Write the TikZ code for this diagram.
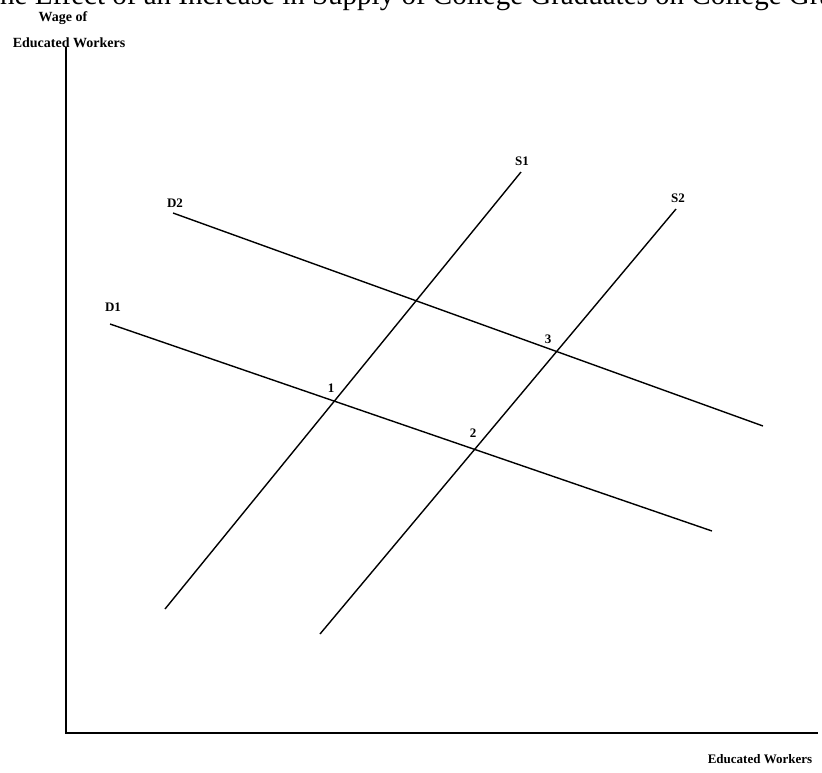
\documentclass[tikz,border=0pt]{standalone}
\usepackage{fontspec}
\setmainfont{Liberation Serif}
\begin{document}
\begin{tikzpicture}[x=1pt,y=-1pt,
  curve/.style={line width=1.4pt},
  axis/.style={line width=1.8pt},
  lbl/.style={inner sep=0pt,font=\fontsize{13}{15}\selectfont\bfseries},
  axlbl/.style={inner sep=0pt,font=\fontsize{14}{16}\selectfont\bfseries},
  ttl/.style={inner sep=0pt,anchor=base west,font=\fontsize{29}{32}\selectfont}]
\useasboundingbox[fill=white] (0,0) rectangle (822,772);
% title (clipped by page edge)
\node[ttl] (title) at (0,4) {\llap{T}he Effect of an Increase in Supply of College Graduates on College Graduate Wages};
% axes
\coordinate (O) at (66,733);
\coordinate (ytop) at (66,47);
\coordinate (xend) at (818,733);
\draw[axis] (ytop) -- (O) -- (xend);
\node[axlbl] (ylab1) at (63,18) {Wage of};
\node[axlbl] (ylab2) at (69,43) {Educated Workers};
\node[lbl] (xlab) at (760,759) {Educated Workers};
% supply curves
\coordinate (s1a) at (165,609);
\coordinate (s1b) at (521,172);
\coordinate (s2a) at (320,634);
\coordinate (s2b) at (676,209);
\draw[curve] (s1a) -- (s1b);
\draw[curve] (s2a) -- (s2b);
% demand curves
\coordinate (d1a) at (110,324);
\coordinate (d1b) at (712,531);
\coordinate (d2a) at (173,213);
\coordinate (d2b) at (763,426);
\draw[curve] (d1a) -- (d1b);
\draw[curve] (d2a) -- (d2b);
% labels
\node[lbl] (S1) at (522,161) {S1};
\node[lbl] (S2) at (678,198) {S2};
\node[lbl] (D1) at (113,307) {D1};
\node[lbl] (D2) at (175,203) {D2};
\node[lbl] (p1) at (331,388) {1};
\node[lbl] (p2) at (473,433) {2};
\node[lbl] (p3) at (548,339) {3};
\end{tikzpicture}
\end{document}
